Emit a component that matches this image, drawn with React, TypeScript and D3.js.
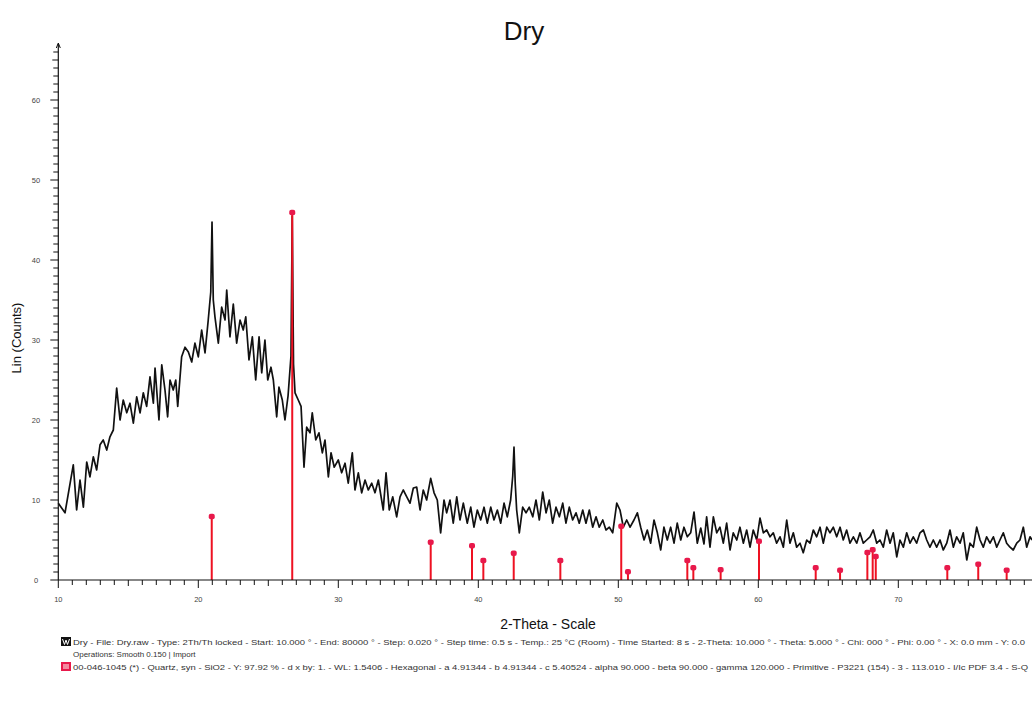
import React from "react";
import * as d3 from "d3";

const twoTheta = [
  10.0, 10.48, 11.07, 11.31, 11.55, 11.79, 12.03, 12.26, 12.5, 12.74, 12.98, 13.21, 13.46, 13.69, 13.93,
  14.17, 14.41, 14.64, 14.89, 15.12, 15.36, 15.6, 15.84, 16.07, 16.31, 16.55, 16.79, 16.91, 17.19, 17.39,
  17.62, 17.81, 17.98, 18.21, 18.39, 18.53, 18.81, 19.05, 19.29, 19.53, 19.76, 20.0, 20.24, 20.48, 20.71,
  20.89, 20.98, 21.07, 21.19, 21.43, 21.67, 21.91, 22.03, 22.26, 22.5, 22.74, 22.98, 23.21, 23.39, 23.62,
  23.86, 24.1, 24.34, 24.53, 24.76, 24.96, 25.19, 25.36, 25.6, 25.76, 26.0, 26.19, 26.41, 26.62, 26.71,
  26.8, 26.91, 27.14, 27.34, 27.55, 27.74, 27.98, 28.14, 28.39, 28.62, 28.86, 29.05, 29.29, 29.48, 29.71,
  30.0, 30.24, 30.48, 30.71, 31.0, 31.19, 31.43, 31.67, 31.91, 32.14, 32.39, 32.62, 32.86, 33.21, 33.41,
  33.64, 33.89, 34.17, 34.41, 34.64, 34.89, 35.12, 35.36, 35.6, 35.84, 36.07, 36.31, 36.6, 36.84, 37.07,
  37.31, 37.55, 37.74, 37.98, 38.21, 38.46, 38.69, 38.93, 39.21, 39.46, 39.69, 39.93, 40.17, 40.41, 40.64,
  40.89, 41.12, 41.36, 41.6, 41.84, 42.07, 42.31, 42.46, 42.55, 42.64, 42.74, 42.93, 43.17, 43.41, 43.64,
  43.89, 44.12, 44.36, 44.6, 44.84, 45.07, 45.31, 45.55, 45.79, 46.03, 46.26, 46.5, 46.74, 46.98, 47.21,
  47.46, 47.69, 47.93, 48.17, 48.41, 48.64, 48.89, 49.12, 49.36, 49.6, 49.89, 50.12, 50.36, 50.6, 50.84,
  51.12, 51.36, 51.6, 51.84, 52.07, 52.31, 52.55, 52.79, 53.03, 53.26, 53.5, 53.74, 53.98, 54.21, 54.46,
  54.69, 54.93, 55.17, 55.41, 55.64, 55.89, 56.12, 56.31, 56.55, 56.79, 57.03, 57.26, 57.5, 57.74, 57.98,
  58.21, 58.46, 58.69, 58.93, 59.17, 59.41, 59.64, 59.89, 60.12, 60.36, 60.6, 60.84, 61.07, 61.31, 61.55,
  61.79, 62.03, 62.26, 62.5, 62.74, 62.98, 63.21, 63.46, 63.69, 63.93, 64.17, 64.41, 64.64, 64.89, 65.12,
  65.36, 65.6, 65.84, 66.07, 66.31, 66.55, 66.79, 67.03, 67.26, 67.5, 67.74, 67.98, 68.21, 68.46, 68.69,
  68.93, 69.17, 69.41, 69.64, 69.89, 70.12, 70.36, 70.6, 70.84, 71.07, 71.31, 71.55, 71.79, 72.03, 72.26,
  72.5, 72.74, 72.98, 73.21, 73.46, 73.69, 73.93, 74.17, 74.41, 74.64, 74.89, 75.12, 75.36, 75.6, 75.84,
  76.07, 76.31, 76.55, 76.79, 77.03, 77.26, 77.5, 77.74, 77.98, 78.21, 78.46, 78.69, 78.93, 79.17, 79.41,
  79.55,
];

const counts = [
  9.6, 8.4, 14.4, 8.75, 12.5, 9.1, 14.75, 12.9, 15.4, 13.75, 16.9, 17.5, 16.25, 17.9, 18.75,
  24, 20, 22.5, 20.9, 22.1, 19.6, 22.9, 20.9, 23.4, 21.7, 25.4, 22.1, 26.5, 20, 26.9,
  23.75, 20.4, 25, 23.75, 25, 21.7, 27.9, 29.1, 28.5, 27.25, 29.6, 27.9, 31.25, 28.4, 32.5,
  36, 44.75, 35, 32.9, 29.6, 34.1, 32.5, 36.25, 30.4, 34.5, 29.6, 32.5, 31.25, 32.9, 27.5,
  30.4, 25, 30.4, 25.9, 30, 25, 26.6, 25, 20.4, 24.1, 22.5, 20, 23, 28, 45.5,
  27, 23.4, 22.5, 21.7, 14.1, 19.1, 18.4, 20.9, 17.5, 18.4, 15.9, 17.5, 12.9, 15.9, 14.1,
  15, 13.4, 14.6, 12.1, 15.9, 11.25, 13.4, 10.9, 12.5, 11.25, 12.1, 10.9, 12.5, 8.75, 13.4,
  8.75, 10.4, 7.9, 10.4, 11.25, 10.4, 9.6, 11.5, 11.6, 8.75, 11.25, 10, 12.7, 10.9, 10,
  5.9, 10, 8.4, 10, 7.1, 10.4, 7.5, 9.6, 7.1, 9.1, 6.6, 8.75, 7.5, 9.1, 7.1,
  9.1, 7.5, 8.75, 7.1, 9.6, 7.9, 10, 13, 16.6, 12, 8.75, 5.9, 9.1, 8.4, 9.1,
  7.9, 10, 7.5, 11, 8.4, 10, 7.1, 9.1, 7.9, 9.6, 7.1, 9.1, 7.5, 8.4, 7.1,
  8.75, 7.1, 8.75, 6.6, 7.9, 6.6, 7.5, 6.25, 6.6, 5.9, 9.6, 8.75, 6.6, 7.5, 6.6,
  7.5, 8.4, 6.6, 5, 6.25, 4.6, 7.5, 5.9, 3.75, 6.6, 5, 6.6, 4.6, 7.1, 5,
  6.6, 5.4, 5.9, 8.5, 4.6, 6.5, 4.5, 7.9, 4.1, 7.9, 5.9, 6.6, 4.6, 7.1, 3.75,
  5.9, 5, 6.6, 4.6, 6.25, 4.1, 6.25, 5, 7.75, 5.9, 6.25, 5.4, 5.9, 4.6, 5.4,
  4.1, 7.5, 4.6, 5.9, 4.1, 4.6, 3.4, 5, 4.6, 6.25, 5.4, 6.6, 4.6, 6.6, 5.9,
  6.6, 5.4, 6.6, 5, 6.25, 4.6, 5.4, 4.6, 5.9, 4.6, 5, 5.4, 6.25, 4.6, 5,
  4.1, 6.25, 4.6, 5.9, 2.9, 5, 4.1, 5.9, 4.6, 5.4, 4.6, 5.9, 6.25, 5, 4.1,
  5, 4.1, 5, 3.75, 4.6, 6.25, 4.1, 5.4, 4.6, 5.9, 2.5, 4.6, 4.1, 6.6, 5,
  4.1, 5.4, 4.6, 5.4, 4.1, 5, 5.9, 4.6, 4.1, 3.75, 4.6, 5, 6.6, 4.1, 5.4,
  5.0,
];

const stickTheta = [20.96, 26.71, 36.6, 39.55, 40.36, 42.53, 45.86, 50.21, 50.69, 54.93, 55.36, 57.31, 60.05, 64.1, 65.84, 67.79, 68.17, 68.39, 73.5, 75.71, 77.74];
const stickCounts = [7.9, 45.9, 4.7, 4.25, 2.4, 3.3, 2.4, 6.7, 1.0, 2.4, 1.5, 1.25, 4.8, 1.5, 1.2, 3.4, 3.75, 2.9, 1.5, 1.95, 1.2];

const xTickLabels = [10, 20, 30, 40, 50, 60, 70];
const yTickLabels = [0, 10, 20, 30, 40, 50, 60];

const title = "Dry";
const xTitle = "2-Theta - Scale";
const yTitle = "Lin (Counts)";
const legendLine1 =
  "Dry - File: Dry.raw - Type: 2Th/Th locked - Start: 10.000 ° - End: 80000 ° - Step: 0.020 ° - Step time: 0.5 s - Temp.: 25 °C (Room) - Time Started: 8 s - 2-Theta: 10.000 ° - Theta: 5.000 ° - Chi: 000 ° - Phi: 0.00 ° - X: 0.0 mm - Y: 0.0";
const legendLine2 = "Operations: Smooth 0.150 | Import";
const legendLine3 =
  "00-046-1045 (*) - Quartz, syn - SiO2 - Y: 97.92 % - d x by: 1. - WL: 1.5406 - Hexagonal - a 4.91344 - b 4.91344 - c 5.40524 - alpha 90.000 - beta 90.000 - gamma 120.000 - Primitive - P3221 (154) - 3 - 113.010 - I/Ic PDF 3.4 - S-Q";

const W = 1032;
const H = 713;
const FONT = "'Liberation Sans', Arial, sans-serif";

export default function App() {
  const x = d3.scaleLinear().domain([10, 80]).range([58.3, 1038.3]);
  const y = d3.scaleLinear().domain([0, 67]).range([580, 44]);

  const pts = twoTheta.map((t, i) => [t, counts[i]] as [number, number]);
  const line = d3
    .line<[number, number]>()
    .x((d) => x(d[0]))
    .y((d) => y(d[1]));

  const xMinor = d3.range(10, 80, 1);
  const yMinor = d3.range(0, 67, 1);

  return (
    <svg
      width={W}
      height={H}
      style={{ position: "absolute", left: 0, top: 0, background: "#fff" }}
      fontFamily={FONT}
    >
      <rect width={W} height={H} fill="#fff" />
      <text x={524} y={40} textAnchor="middle" fontSize={26} fill="#111">
        {title}
      </text>

      {/* curve */}
      <path d={line(pts) || ""} fill="none" stroke="#111" strokeWidth={1.7} strokeLinejoin="round" />

      {/* sticks */}
      {stickTheta.map((t, i) => (
        <g key={"s" + i}>
          <line x1={x(t)} x2={x(t)} y1={y(0)} y2={y(stickCounts[i])} stroke="#ee1122" strokeWidth={2} />
          <rect
            x={x(t) - 3}
            y={y(stickCounts[i]) - 3}
            width={6}
            height={5.5}
            rx={2}
            fill="#e8194b"
          />
        </g>
      ))}

      {/* axes */}
      <line x1={x(10)} x2={W} y1={y(0)} y2={y(0)} stroke="#111" strokeWidth={1.2} />
      <line x1={x(10)} x2={x(10)} y1={y(0)} y2={44} stroke="#111" strokeWidth={1.2} />
      <path d={`M${x(10) - 2},48 L${x(10)},43 L${x(10) + 2},48`} fill="none" stroke="#111" strokeWidth={1} />

      {xMinor.map((v) => (
        <line
          key={"xt" + v}
          x1={x(v)}
          x2={x(v)}
          y1={y(0)}
          y2={y(0) + (v % 10 === 0 ? 8 : v % 5 === 0 ? 6 : 5)}
          stroke="#111"
          strokeWidth={1}
        />
      ))}
      {yMinor.map((v) => (
        <line
          key={"yt" + v}
          x1={x(10)}
          x2={x(10) - (v % 10 === 0 ? 8 : v % 5 === 0 ? 6 : 5)}
          y1={y(v)}
          y2={y(v)}
          stroke="#111"
          strokeWidth={1}
        />
      ))}

      {xTickLabels.map((v) => (
        <text key={"xl" + v} x={x(v)} y={602} textAnchor="middle" fontSize={7.5} fill="#444">
          {v}
        </text>
      ))}
      {yTickLabels.map((v) => (
        <text key={"yl" + v} x={36} y={y(v) + 2.5} textAnchor="middle" fontSize={7.5} fill="#444">
          {v}
        </text>
      ))}

      <text x={548} y={629} textAnchor="middle" fontSize={14} fill="#111">
        {xTitle}
      </text>
      <text
        transform={`translate(21,338) rotate(-90)`}
        textAnchor="middle"
        fontSize={13}
        fill="#111"
      >
        {yTitle}
      </text>

      {/* legend */}
      <rect x={61} y={637} width={10} height={9} fill="#111" />
      <path d="M62.5,639 L64.5,644.5 L66,640 L67.5,644.5 L69.5,639" fill="none" stroke="#fff" strokeWidth={1} />
      <text x={73} y={645} fontSize={8} fill="#333" textLength={952} lengthAdjust="spacingAndGlyphs">
        {legendLine1}
      </text>
      <text x={73} y={657} fontSize={8} fill="#333">
        {legendLine2}
      </text>
      <rect x={61} y={662} width={10} height={9} fill="#e8194b" />
      <rect x={63} y={664} width={6} height={5} fill="#f38aa0" />
      <text x={73} y={670} fontSize={8} fill="#333" textLength={955} lengthAdjust="spacingAndGlyphs">
        {legendLine3}
      </text>
    </svg>
  );
}
